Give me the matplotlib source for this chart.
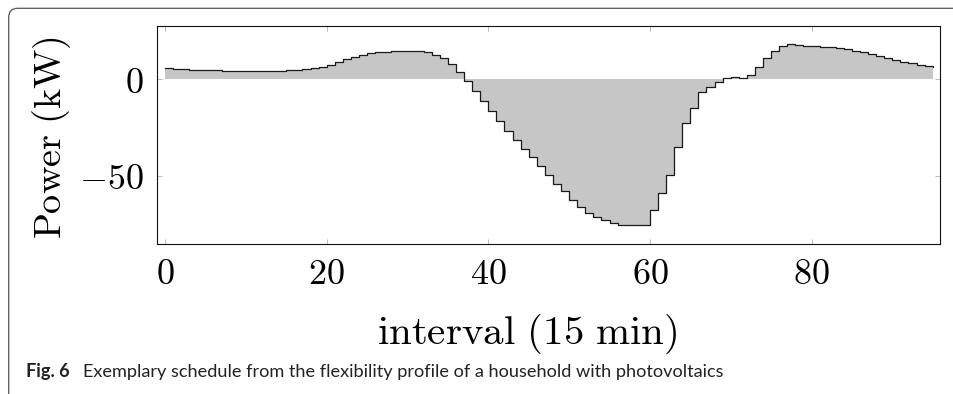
import matplotlib

matplotlib.use("Agg")
import matplotlib.pyplot as plt
from matplotlib import font_manager
from matplotlib.patches import FancyBboxPatch

# power per 15-min interval (kW)
power = [
    5.7, 5.3, 5.1, 4.9, 4.8, 4.6, 4.6, 4.5, 4.4, 4.4,
    4.4, 4.4, 4.4, 4.4, 4.5, 4.6, 4.7, 5.2, 5.7, 6.4,
    7.4, 8.9, 10.5, 11.8, 12.8, 13.5, 14.0, 14.3, 14.5, 14.6,
    14.6, 14.5, 13.9, 12.8, 11.1, 7.9, 3.8, -1.0, -6.2, -11.4,
    -16.6, -21.7, -26.7, -31.4, -35.8, -40.2, -44.8, -49.5, -54.2, -58.0,
    -62.2, -65.9, -69.0, -71.0, -72.8, -74.3, -75.5, -75.6, -75.6, -75.5,
    -67.8, -58.8, -49.5, -34.8, -22.7, -14.6, -6.4, -3.8, -1.6, 0.6,
    1.1, 0.7, 2.4, 6.5, 10.8, 14.5, 17.3, 18.2, 17.8, 17.4,
    17.0, 16.9, 16.5, 16.0, 15.5, 14.8, 14.0, 12.9, 12.0, 11.0,
    10.0, 9.1, 8.3, 7.6, 6.9, 6.5,
]
intervals = list(range(len(power)))
x_ticks = [0, 20, 40, 60, 80]
y_ticks = [-50, 0]

caption_tag = "Fig. 6"
caption = "Exemplary schedule from the flexibility profile of a household with photovoltaics"

plt.rcParams["mathtext.fontset"] = "cm"

names = {f.name for f in font_manager.fontManager.ttflist}
cap_font = "Liberation Sans Narrow" if "Liberation Sans Narrow" in names else "Lato"
cap_size = 14.5 if cap_font == "Liberation Sans Narrow" else 13.1

W, H = 954, 394
fig = plt.figure(figsize=(W / 100, H / 100), dpi=100)

# rounded frame of the figure box (only the top-left corner is visible)
frame = FancyBboxPatch(
    (0.087, -1.0), 12.0, 3.94 - 0.083 + 1.0,
    boxstyle="round,pad=0,rounding_size=0.09",
    transform=fig.dpi_scale_trans,
    facecolor="none", edgecolor="#555555", lw=0.9, clip_on=False,
)
fig.add_artist(frame)

ax = fig.add_axes([157.3 / W, 1 - 244 / H, (940 - 157.3) / W, (244 - 26) / H])
ax.fill_between(intervals, power, 0, step="post", color="#c6c6c6", lw=0)
ax.step(intervals, power, where="post", color="#1a1a1a", lw=0.9)

ax.set_xlim(-0.97, 95.9)
ax.set_ylim(-85.2, 27.6)
ax.set_xticks(x_ticks, labels=[f"${t}$" for t in x_ticks])
ax.set_yticks(y_ticks, labels=[f"${t}$" for t in y_ticks])
ax.tick_params(direction="in", length=3.4, width=0.5, color="#a0a0a0",
               top=True, right=True, labelsize=26)
ax.tick_params(axis="x", pad=9)
ax.tick_params(axis="y", pad=10)
for s in ax.spines.values():
    s.set_linewidth(0.8)
    s.set_color("#111111")

fig.text(527 / W, 1 - 334 / H, r"$\mathrm{interval\ (15\ min)}$",
         fontsize=29.5, ha="center", va="center")
fig.text(52 / W, 1 - 137 / H, r"$\mathrm{Power\ (kW)}$",
         fontsize=27.5, rotation=90, ha="center", va="center")

fig.text(26 / W, 1 - 372 / H, caption_tag, family=cap_font, weight="bold",
         fontsize=cap_size, ha="left", va="center", color="#222222")
fig.text(83 / W, 1 - 372 / H, caption, family=cap_font,
         fontsize=cap_size, ha="left", va="center", color="#222222")

fig.savefig("out.png", dpi=100)
